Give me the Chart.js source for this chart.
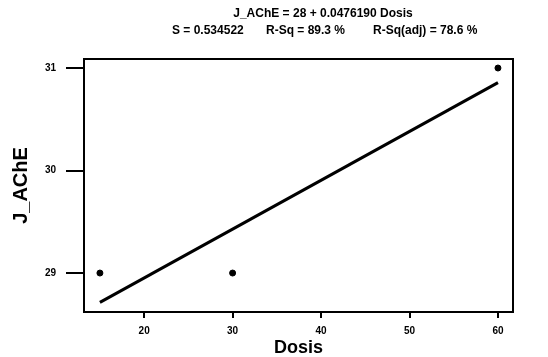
<!DOCTYPE html>
<html>
<head>
<meta charset="utf-8">
<script src="https://cdn.jsdelivr.net/npm/chart.js@4/dist/chart.umd.min.js"></script>
<style>
html,body{margin:0;padding:0;background:#fff;}
canvas{display:block;}
</style>
</head>
<body>
<canvas id="c" width="548" height="357"></canvas>
<script>
// Observed data
const dosis = [15, 30, 60];
const jAChE = [29, 29, 31];
// Fitted line endpoints (J_AChE = 28 + 0.0476190 Dosis)
const fitX = [15, 60];
const fitY = [28.7143, 30.8571];
// Tick labels
const xTicks = [20, 30, 40, 50, 60];
const yTicks = [29, 30, 31];
// Texts
const titleLine1 = "J_AChE = 28 + 0.0476190 Dosis";
const statS = "S = 0.534522";
const statR = "R-Sq = 89.3 %";
const statRadj = "R-Sq(adj) = 78.6 %";

const FONT = "'Liberation Sans', Arial, sans-serif";

const boxPlugin = {
  id: 'box',
  afterDatasetsDraw(chart) {
    const {ctx, chartArea: a} = chart;
    ctx.save();
    ctx.strokeStyle = '#000';
    ctx.lineWidth = 2;
    ctx.strokeRect(a.left, a.top, a.right - a.left, a.bottom - a.top);
    ctx.restore();
  },
  afterDraw(chart) {
    const {ctx} = chart;
    ctx.save();
    ctx.fillStyle = '#000';
    ctx.font = "bold 12px " + FONT;
    ctx.textBaseline = 'middle';
    ctx.textAlign = 'center';
    ctx.fillText(titleLine1, 323, 14);
    ctx.textAlign = 'left';
    ctx.fillText(statS, 172, 31);
    ctx.fillText(statR, 266, 31);
    ctx.fillText(statRadj, 373, 31);
    ctx.restore();
  }
};

new Chart(document.getElementById('c'), {
  type: 'scatter',
  data: {
    datasets: [
      {
        type: 'line',
        data: fitX.map((x, i) => ({x: x, y: fitY[i]})),
        borderColor: '#000',
        borderWidth: 3,
        pointRadius: 0,
        fill: false
      },
      {
        data: dosis.map((x, i) => ({x: x, y: jAChE[i]})),
        backgroundColor: '#000',
        borderColor: '#000',
        pointRadius: 3,
        pointHoverRadius: 3
      }
    ]
  },
  options: {
    responsive: false,
    animation: false,
    events: [],
    layout: {padding: {top: 59, right: 35, bottom: 0, left: 0}},
    plugins: {legend: {display: false}, tooltip: {enabled: false}},
    scales: {
      x: {
        type: 'linear',
        min: 13.2,
        max: 61.7,
        afterBuildTicks: s => { s.ticks = xTicks.map(v => ({value: v})); },
        afterFit: s => { s.height = 45; },
        grid: {drawOnChartArea: false, drawTicks: true, tickLength: 6, color: '#000', lineWidth: 2},
        border: {display: true, color: '#000', width: 2},
        ticks: {color: '#000', padding: 7, maxRotation: 0, font: {family: FONT, size: 10, weight: 'bold'}},
        title: {display: true, text: 'Dosis', color: '#000', padding: {top: 0, bottom: 0},
                font: {family: FONT, size: 18, weight: 'bold', lineHeight: 1}}
      },
      y: {
        type: 'linear',
        min: 28.62,
        max: 31.088,
        afterBuildTicks: s => { s.ticks = yTicks.map(v => ({value: v})); },
        afterFit: s => { s.width = 84; },
        grid: {drawOnChartArea: false, drawTicks: true, tickLength: 18, color: '#000', lineWidth: 2},
        border: {display: true, color: '#000', width: 2},
        ticks: {color: '#000', padding: 10, font: {family: FONT, size: 10, weight: 'bold'}},
        title: {display: true, text: 'J_AChE', color: '#000', padding: {top: 11, bottom: 0},
                font: {family: FONT, size: 20, weight: 'bold', lineHeight: 1}}
      }
    }
  },
  plugins: [boxPlugin]
});
</script>
</body>
</html>
